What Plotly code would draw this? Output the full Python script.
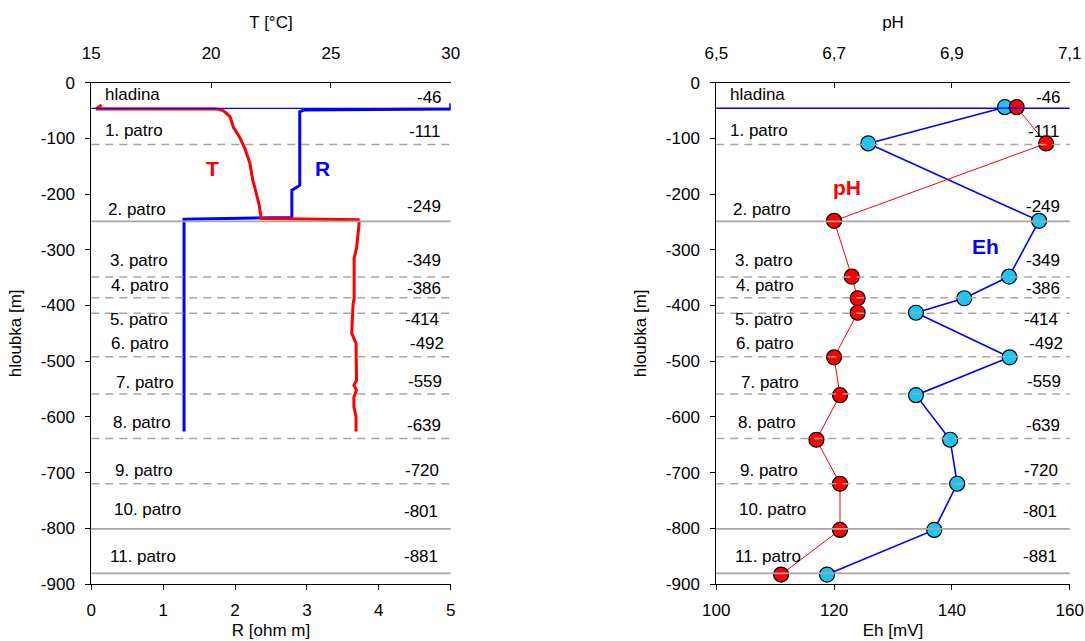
import plotly.graph_objects as go

# ---------------- data ----------------
# left panel: resistivity R and temperature T profiles
R_val = [5.0, 5.0, 2.96, 2.90, 2.90, 2.87, 2.79, 2.79, 1.29, 1.29]
R_depth = [-37, -47, -49, -52, -184, -187, -193, -242, -245, -626]

T_val = [15.43, 15.2, 20.2, 20.51, 20.79, 20.93, 21.18, 21.41, 21.62, 21.74, 21.87, 21.93,
         22.01, 22.08, 22.1, 26.14, 26.18, 26.07, 25.97, 25.97, 25.93, 25.90, 25.87, 26.05,
         26.07, 25.96, 26.07, 25.96, 25.96, 26.05, 26.05]
T_depth = [-40, -47, -47, -50, -61, -80, -97, -118, -145, -175, -196, -205,
           -220, -241, -244, -246, -252, -297, -315, -387, -396, -420, -450, -468,
           -534, -543, -552, -564, -582, -600, -626]

# right panel: pH and Eh samples
S_depth = [-44, -109, -248, -348, -387, -413, -493, -561, -641, -720, -803, -883]
pH_val = [7.01, 7.06, 6.70, 6.73, 6.74, 6.74, 6.70, 6.71, 6.67, 6.71, 6.71, 6.61]
Eh_val = [149.0, 125.8, 154.8, 149.7, 142.1, 133.9, 149.8, 133.9, 139.7, 140.9, 137.0, 118.8]

# levels (patra)
level_depth = [-46, -111, -249, -349, -386, -414, -492, -559, -639, -720, -801, -881]
level_kind = ["hladina", "dash", "solid", "dash", "dash", "dash", "dash", "dash", "dash", "dash", "solid", "solid"]
level_names = ["hladina", "1. patro", "2. patro", "3. patro", "4. patro", "5. patro", "6. patro",
               "7. patro", "8. patro", "9. patro", "10. patro", "11. patro"]
level_text = ["-46", "-111", "-249", "-349", "-386", "-414", "-492", "-559", "-639", "-720", "-801", "-881"]
name_y = [-22, -86, -227, -320, -364, -426, -468, -538, -610, -697, -767, -850]
value_y = [-26, -88, -223, -320, -370, -426, -468, -537, -615, -697, -769, -851]

y_ticks = [0, -100, -200, -300, -400, -500, -600, -700, -800, -900]
y_ticktext = ["0", "-100", "-200", "-300", "-400", "-500", "-600", "-700", "-800", "-900"]
R_ticks = [0, 1, 2, 3, 4, 5]
T_ticks = [15, 20, 25, 30]
Eh_ticks = [100, 120, 140, 160]
pH_ticks = [6.5, 6.7, 6.9, 7.1]
pH_ticktext = ["6,5", "6,7", "6,9", "7,1"]

# ---------------- styling ----------------
FONT = "Liberation Sans, Arial, sans-serif"
FS = 17
name_dx = [12, 12, 15, 17, 18, 17, 18, 23, 20, 22, 21, 17]
value_dx = [-7, -8, -8, -8, -8, -10, -5, -7, -8, -10, -11, -11]

fig = go.Figure()

fig.add_trace(go.Scatter(x=R_val, y=R_depth, mode="lines", xaxis="x", yaxis="y",
                         line=dict(color="#0000FF", width=3), showlegend=False))
fig.add_trace(go.Scatter(x=T_val, y=T_depth, mode="lines", xaxis="x2", yaxis="y",
                         line=dict(color="#FF0000", width=3), showlegend=False))

fig.add_trace(go.Scatter(x=Eh_val, y=S_depth, mode="lines+markers", xaxis="x3", yaxis="y2",
                         line=dict(color="#0000FF", width=1.6),
                         marker=dict(size=15, color="#1CC6F2", line=dict(color="#000000", width=1.2)),
                         showlegend=False, cliponaxis=False))
fig.add_trace(go.Scatter(x=pH_val, y=S_depth, mode="lines+markers", xaxis="x4", yaxis="y2",
                         line=dict(color="#FF0000", width=1),
                         marker=dict(size=15, color="#FF0000", line=dict(color="#000000", width=1.2)),
                         showlegend=False, cliponaxis=False))

shapes = []
annotations = []
for xr, yr in [("x domain", "y"), ("x3 domain", "y2")]:
    for i, d in enumerate(level_depth):
        k = level_kind[i]
        if k == "hladina":
            ln = dict(color="#0000FF", width=1.6 if xr.startswith("x3") else 1.3)
        elif k == "dash":
            ln = dict(color="#A6A6A6", width=1.5, dash="8px,6px")
        else:
            ln = dict(color="#A6A6A6", width=1.8)
        shapes.append(dict(type="line", xref=xr, yref=yr, x0=0, x1=1, y0=d, y1=d,
                           line=ln, layer="above"))
        annotations.append(dict(xref=xr, yref=yr, x=0, y=name_y[i], text=level_names[i],
                                showarrow=False, xanchor="left", yanchor="middle",
                                xshift=name_dx[i], font=dict(family=FONT, size=FS, color="#000")))
        annotations.append(dict(xref=xr, yref=yr, x=1, y=value_y[i], text=level_text[i],
                                showarrow=False, xanchor="right", yanchor="middle",
                                xshift=value_dx[i], font=dict(family=FONT, size=FS, color="#000")))

bold = dict(family=FONT, size=21)
annotations += [
    dict(xref="x", yref="y", x=1.69, y=-154, text="<b>T</b>", showarrow=False,
         font=dict(bold, color="#FF0000")),
    dict(xref="x", yref="y", x=3.22, y=-154, text="<b>R</b>", showarrow=False,
         font=dict(bold, color="#0000FF")),
    dict(xref="x3", yref="y2", x=122.2, y=-188, text="<b>pH</b>", showarrow=False,
         font=dict(bold, color="#FF0000")),
    dict(xref="x3", yref="y2", x=145.7, y=-294, text="<b>Eh</b>", showarrow=False,
         font=dict(bold, color="#0000FF")),
]

axfont = dict(family=FONT, size=FS, color="#000")
common_x = dict(showgrid=False, zeroline=False, showline=True, linecolor="#000", linewidth=1,
                ticks="outside", ticklen=5, tickcolor="#000", tickfont=axfont,
                title_font=axfont, automargin=False)
common_top = dict(showgrid=False, zeroline=False, showline=True, linecolor="#000", linewidth=1,
                  ticks="inside", ticklen=5, tickcolor="#000", tickfont=axfont,
                  title_font=axfont, side="top", ticklabelstandoff=16, automargin=False)

# figure fills the whole page (body margin removed in post_script)
W, H = 1085, 641


def fx(px):
    return px / W


def fy(py):
    return (H - py) / H


common_y = dict(showgrid=False, zeroline=False, showline=True, linecolor="#000", linewidth=1,
                ticks="outside", ticklen=5, tickcolor="#000", tickfont=axfont,
                range=[-900, 0], tickvals=y_ticks, ticktext=y_ticktext, automargin=False,
                domain=[fy(584), fy(82.7)], ticklabelstandoff=7,
                title=dict(text="hloubka [m]", font=axfont, standoff=14))

fig.update_layout(
    width=W, height=H,
    margin=dict(l=0, r=0, t=0, b=0, autoexpand=False),
    paper_bgcolor="#FFFFFF", plot_bgcolor="#FFFFFF",
    font=dict(family=FONT, size=FS, color="#000"),
    xaxis=dict(common_x, domain=[fx(91.3), fx(450.7)], range=[0, 5], tickvals=R_ticks, anchor="y",
               title=dict(text="R [ohm m]", standoff=4), ticklabelstandoff=6),
    xaxis2=dict(common_top, domain=[fx(91.3), fx(450.7)], range=[15, 30], tickvals=T_ticks, anchor="y",
                overlaying="x", title=dict(text="T [°C]", standoff=10)),
    yaxis=dict(common_y, anchor="x"),
    xaxis3=dict(common_x, domain=[fx(716.3), fx(1069.7)], range=[100, 160], tickvals=Eh_ticks,
                anchor="y2", title=dict(text="Eh [mV]", standoff=4), ticklabelstandoff=6),
    xaxis4=dict(common_top, domain=[fx(716.3), fx(1069.7)], range=[6.5, 7.1], tickvals=pH_ticks,
                ticktext=pH_ticktext, anchor="y2", overlaying="x3",
                title=dict(text="pH", standoff=10)),
    yaxis2=dict(common_y, anchor="x3"),
    shapes=shapes,
    annotations=annotations,
)

fig.write_html(
    "out.html",
    config={"displayModeBar": False},
    post_script="document.body.style.margin='0';document.body.style.overflow='hidden';",
)
